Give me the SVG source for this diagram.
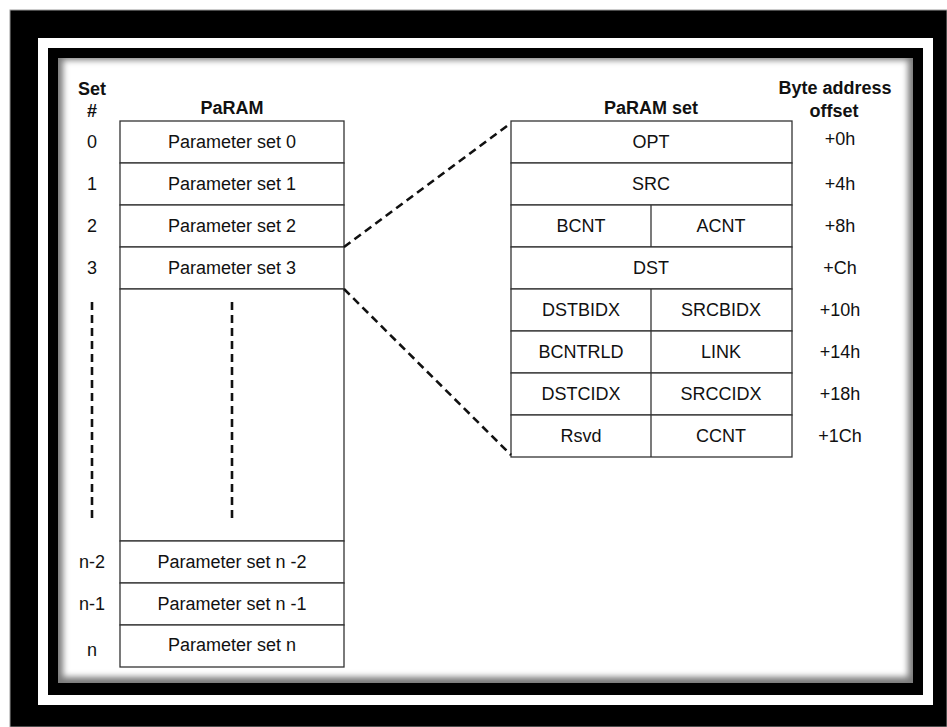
<svg xmlns="http://www.w3.org/2000/svg" width="947" height="727" viewBox="0 0 947 727">
<style>
text{font-family:"Liberation Sans",Arial,sans-serif;font-size:18px;fill:#111;text-anchor:middle}
.b{font-weight:bold}
.cell{fill:#fff;stroke:#333;stroke-width:1.3}
.ln{stroke:#333;stroke-width:1.3;fill:none}
.dash{stroke:#111;stroke-width:2.6;stroke-dasharray:8 5;fill:none}
</style>
<defs>
<filter id="soft" x="-5%" y="-5%" width="110%" height="110%"><feGaussianBlur stdDeviation="3"/></filter>
<clipPath id="inner"><rect x="58" y="58" width="855" height="625"/></clipPath>
</defs>
<rect width="947" height="727" fill="#fff"/>
<g id="frame">
<rect x="10" y="10" width="937" height="717" fill="#000" stroke="#999" stroke-width="1"/>
<rect x="38" y="38" width="895" height="667" fill="#fff"/>
<rect x="48" y="48" width="875" height="647" fill="#000"/>
<rect x="58" y="58" width="855" height="625" fill="#7a7a7a"/>
<g clip-path="url(#inner)"><rect x="63" y="60" width="845" height="617" fill="#fff" filter="url(#soft)"/></g>
</g>
<g id="headers">
<text class="b" x="92" y="95">Set</text>
<text class="b" x="92" y="117">#</text>
<text class="b" x="232" y="114">PaRAM</text>
<text class="b" x="651" y="114">PaRAM set</text>
<text class="b" x="835" y="94">Byte address</text>
<text class="b" x="834" y="117">offset</text>
</g>
<g id="param-table">
<g id="pset0"><rect class="cell" x="120" y="121" width="224" height="42"/><text x="232" y="148">Parameter set 0</text><text x="92" y="148">0</text></g>
<g id="pset1"><rect class="cell" x="120" y="163" width="224" height="42"/><text x="232" y="190">Parameter set 1</text><text x="92" y="190">1</text></g>
<g id="pset2"><rect class="cell" x="120" y="205" width="224" height="42"/><text x="232" y="232">Parameter set 2</text><text x="92" y="232">2</text></g>
<g id="pset3"><rect class="cell" x="120" y="247" width="224" height="42"/><text x="232" y="274">Parameter set 3</text><text x="92" y="274">3</text></g>
<g id="pset-gap"><rect class="cell" x="120" y="289" width="224" height="252"/>
<line class="dash" x1="92" y1="302" x2="92" y2="522"/>
<line class="dash" x1="232" y1="302" x2="232" y2="522"/></g>
<g id="psetn2"><rect class="cell" x="120" y="541" width="224" height="42"/><text x="232" y="568">Parameter set n -2</text><text x="92" y="568">n-2</text></g>
<g id="psetn1"><rect class="cell" x="120" y="583" width="224" height="42"/><text x="232" y="610">Parameter set n -1</text><text x="92" y="610">n-1</text></g>
<g id="psetn"><rect class="cell" x="120" y="625" width="224" height="42"/><text x="232" y="651">Parameter set n</text><text x="92" y="656">n</text></g>
</g>
<g id="paramset-table">
<g id="opt"><rect class="cell" x="511" y="121" width="281" height="42"/><text x="651" y="148">OPT</text><text x="840" y="145">+0h</text></g>
<g id="src"><rect class="cell" x="511" y="163" width="281" height="42"/><text x="651" y="190">SRC</text><text x="840" y="190">+4h</text></g>
<g id="cnt"><rect class="cell" x="511" y="205" width="281" height="42"/><line class="ln" x1="651" y1="205" x2="651" y2="247"/><text x="581" y="232">BCNT</text><text x="721" y="232">ACNT</text><text x="840" y="232">+8h</text></g>
<g id="dst"><rect class="cell" x="511" y="247" width="281" height="42"/><text x="651" y="274">DST</text><text x="840" y="274">+Ch</text></g>
<g id="bidx"><rect class="cell" x="511" y="289" width="281" height="42"/><line class="ln" x1="651" y1="289" x2="651" y2="331"/><text x="581" y="316">DSTBIDX</text><text x="721" y="316">SRCBIDX</text><text x="840" y="316">+10h</text></g>
<g id="link"><rect class="cell" x="511" y="331" width="281" height="42"/><line class="ln" x1="651" y1="331" x2="651" y2="373"/><text x="581" y="358">BCNTRLD</text><text x="721" y="358">LINK</text><text x="840" y="358">+14h</text></g>
<g id="cidx"><rect class="cell" x="511" y="373" width="281" height="42"/><line class="ln" x1="651" y1="373" x2="651" y2="415"/><text x="581" y="400">DSTCIDX</text><text x="721" y="400">SRCCIDX</text><text x="840" y="400">+18h</text></g>
<g id="ccnt"><rect class="cell" x="511" y="415" width="281" height="42"/><line class="ln" x1="651" y1="415" x2="651" y2="457"/><text x="581" y="442">Rsvd</text><text x="721" y="442">CCNT</text><text x="840" y="442">+1Ch</text></g>
</g>
<g id="connectors">
<line class="dash" x1="344" y1="247" x2="511" y2="123"/>
<line class="dash" x1="344" y1="289" x2="511" y2="455"/>
</g>
</svg>
